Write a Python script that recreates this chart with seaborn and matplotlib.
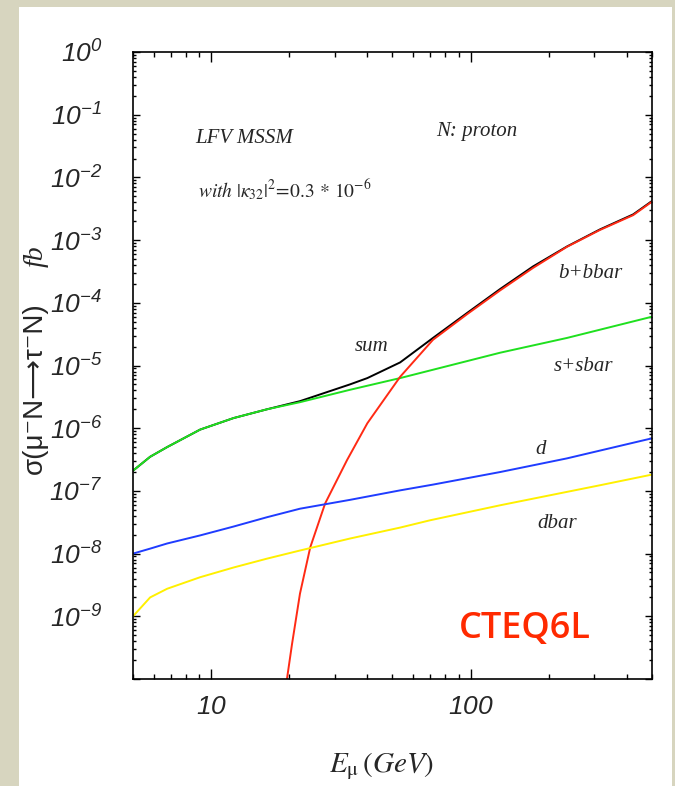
import numpy as np
import pandas as pd
import seaborn as sns
import matplotlib
matplotlib.use("Agg")
import matplotlib.pyplot as plt
from matplotlib import ticker
from matplotlib import font_manager as fm
from matplotlib.patches import Rectangle

# cross sections (fb), E_mu in GeV
E_sum = [5, 5.82, 6.77, 9.07, 12.2, 16.4, 22, 34.3, 40, 53.5, 71.6, 97, 130, 174, 235, 315, 423, 500]
sig_sum = [2.1e-7, 3.5e-7, 5.0e-7, 9.5e-7, 1.45e-6, 2.0e-6, 2.7e-6, 5.0e-6, 6.3e-6, 1.12e-5,
           2.75e-5, 6.9e-5, 1.66e-4, 3.8e-4, 7.9e-4, 1.48e-3, 2.57e-3, 4.2e-3]

E_s = [5, 5.82, 6.77, 9.07, 12.2, 16.4, 22, 34.3, 53.5, 130, 235, 500]
sig_s = [2.1e-7, 3.5e-7, 5.0e-7, 9.5e-7, 1.45e-6, 2.0e-6, 2.6e-6, 4.1e-6, 6.3e-6, 1.6e-5, 2.75e-5, 6.0e-5]

E_b = [19.6, 20.5, 22.0, 24.1, 27.5, 33.4, 40, 53.5, 71.6, 97, 130, 174, 235, 315, 423, 500]
sig_b = [1e-10, 3.6e-10, 2.3e-9, 1.26e-8, 6.3e-8, 3.1e-7, 1.2e-6, 6.6e-6, 2.57e-5, 6.6e-5,
         1.58e-4, 3.6e-4, 7.8e-4, 1.45e-3, 2.5e-3, 4.1e-3]

E_d = [5, 5.82, 6.77, 9.07, 12.2, 16.4, 22, 34.3, 53.5, 71.6, 130, 235, 500]
sig_d = [1.0e-8, 1.2e-8, 1.45e-8, 1.95e-8, 2.7e-8, 3.8e-8, 5.2e-8, 7.2e-8, 1.02e-7, 1.26e-7,
         2.0e-7, 3.3e-7, 6.9e-7]

E_dbar = [5, 5.82, 6.77, 9.07, 12.2, 16.4, 22, 34.3, 53.5, 69.8, 130, 315, 500]
sig_dbar = [1.0e-9, 2.0e-9, 2.75e-9, 4.2e-9, 6.0e-9, 8.3e-9, 1.12e-8, 1.74e-8, 2.6e-8, 3.4e-8,
            5.9e-8, 1.23e-7, 1.82e-7]

parts = ["sum", "s+sbar", "b+bbar", "d", "dbar"]
colors = ["black", "#1fe01f", "#ff2a14", "#1f3cff", "#fff000"]

df = pd.concat([
    pd.DataFrame({"E": E_sum, "sigma": sig_sum, "part": "sum"}),
    pd.DataFrame({"E": E_s, "sigma": sig_s, "part": "s+sbar"}),
    pd.DataFrame({"E": E_b, "sigma": sig_b, "part": "b+bbar"}),
    pd.DataFrame({"E": E_d, "sigma": sig_d, "part": "d"}),
    pd.DataFrame({"E": E_dbar, "sigma": sig_dbar, "part": "dbar"}),
])

sns.set_style("ticks")
fonts = [(f.name, f.style) for f in fm.fontManager.ttflist]
if ("Liberation Sans Narrow", "italic") in fonts:
    tick_font, tick_size = "Liberation Sans Narrow", 24
else:
    tick_font, tick_size = "Liberation Sans", 19
plt.rcParams["font.family"] = ["Liberation Serif", "DejaVu Sans"]
plt.rcParams["mathtext.fontset"] = "custom"
plt.rcParams["mathtext.rm"] = tick_font + ":italic"
plt.rcParams["mathtext.it"] = tick_font + ":italic"
plt.rcParams["mathtext.default"] = "it"

fig = plt.figure(figsize=(6.75, 7.86), dpi=100, facecolor="#d7d5bf")
fig.patches.append(Rectangle((19 / 675, 0), 653 / 675, 779 / 786, transform=fig.transFigure,
                             facecolor="white", edgecolor="none", zorder=-1))
ax = fig.add_axes([133 / 675, 107 / 786, 519 / 675, 627 / 786])
ax.set_facecolor("white")

sns.lineplot(data=df, x="E", y="sigma", hue="part", hue_order=parts, palette=colors,
             estimator=None, sort=False, legend=False, lw=1.4, ax=ax)

ax.set_xscale("log")
ax.set_yscale("log")
ax.set_xlim(5, 500)
ax.set_ylim(1e-10, 1)
ax.set_xlabel("")
ax.set_ylabel("")

ax.yaxis.set_major_locator(ticker.LogLocator(base=10, numticks=15))
ax.yaxis.set_minor_locator(ticker.LogLocator(base=10, subs=np.arange(2, 10), numticks=15))
ax.yaxis.set_major_formatter(ticker.FuncFormatter(
    lambda v, p: "" if v < 5e-10 else r"$\mathit{10}^{\mathit{%d}}$" % round(np.log10(v))))
ax.yaxis.set_minor_formatter(ticker.NullFormatter())
ax.xaxis.set_major_formatter(ticker.FuncFormatter(lambda v, p: r"$\mathit{%d}$" % round(v)))
ax.xaxis.set_minor_formatter(ticker.NullFormatter())

ax.tick_params(which="both", direction="in", top=True, right=True, width=1, color="black")
ax.tick_params(axis="x", which="major", length=7, pad=13, labelsize=tick_size)
ax.tick_params(axis="x", which="minor", length=3.5)
ax.tick_params(axis="y", which="major", length=5, pad=22, labelsize=tick_size)
ax.tick_params(axis="y", which="minor", length=2.5)
for s in ax.spines.values():
    s.set_linewidth(1.2)
    s.set_color("black")

def ax_x(px):
    return (px - 133) / 519

def ax_y(py):
    return (679 - py) / 627

txt = dict(transform=ax.transAxes, fontstyle="italic", family="Liberation Serif", fontsize=15)
ax.text(ax_x(195), ax_y(143), "LFV MSSM", ha="left", va="baseline", **txt)
ax.text(ax_x(436), ax_y(136), "N: proton", ha="left", va="baseline", **txt)
ax.text(ax_x(198), ax_y(198), r"$\mathit{with}\ |\kappa_{32}|^{2}\!=\!\mathit{0.3}\,*\,\mathit{10}^{-6}$",
        ha="left", va="baseline", transform=ax.transAxes, fontsize=14, math_fontfamily="stix")
ax.text(ax_x(372), ax_y(347), "sum", ha="center", va="center", **txt)
ax.text(ax_x(590), ax_y(273), "b+bbar", ha="center", va="center", **txt)
ax.text(ax_x(583), ax_y(367), "s+sbar", ha="center", va="center", **txt)
ax.text(ax_x(541), ax_y(450), "d", ha="center", va="center", **txt)
ax.text(ax_x(557), ax_y(523), "dbar", ha="center", va="center", **txt)
ax.text(ax_x(525), ax_y(629), "CTEQ6L", ha="center", va="center", transform=ax.transAxes,
        family=["Open Sans", "DejaVu Sans"], fontweight="semibold", fontsize=26, color="#ff2a00")

fig.text(382 / 675, 14 / 786, r"$E_{\mathrm{\mu}}\,(GeV)$", ha="center", va="baseline",
         fontsize=21, math_fontfamily="stix")
fig.text(35 / 675, (786 - 388) / 786, "σ(μ⁻N⟶τ⁻N)", rotation=90, ha="center", va="center",
         family=["Liberation Sans", "DejaVu Sans"], fontsize=20)
fig.text(36 / 675, (786 - 256) / 786, "fb", rotation=90, ha="center", va="center",
         family="Liberation Serif", fontstyle="italic", fontsize=20)

fig.savefig("out.png", dpi=100)
